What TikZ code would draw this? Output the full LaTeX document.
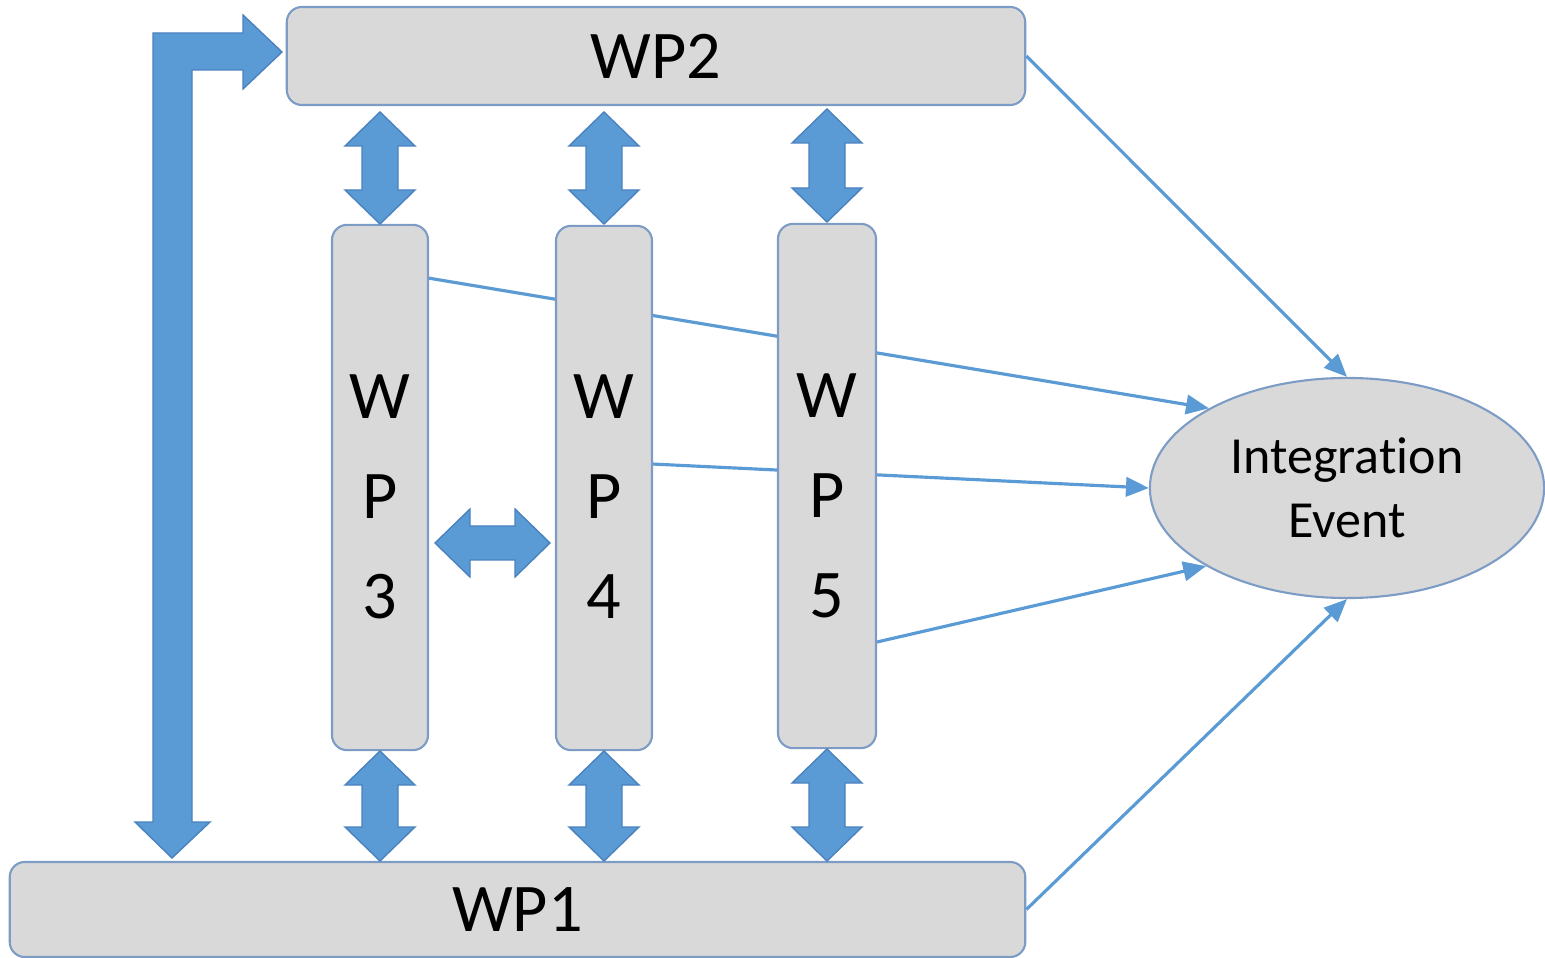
\documentclass[tikz,border=0pt]{standalone}
\usepackage{fontspec}
\setmainfont{Carlito}[Ligatures=NoCommon]
\usetikzlibrary{shapes.geometric,arrows.meta,backgrounds}
\definecolor{boxfill}{HTML}{D9D9D9}
\definecolor{boxline}{HTML}{7C9CC6}
\definecolor{arrfill}{HTML}{5B9BD5}
\definecolor{arrline}{HTML}{4A82BE}
\definecolor{conncol}{HTML}{5B9BD5}
\newcommand\vdblarrow[3]{%
  \path[blockarrow] (#1,#2) -- ({#1+35},{#2+34}) -- ({#1+18},{#2+34}) -- ({#1+18},{#3-34}) -- ({#1+35},{#3-34}) -- (#1,#3) -- ({#1-35},{#3-34}) -- ({#1-18},{#3-34}) -- ({#1-18},{#2+34}) -- ({#1-35},{#2+34}) -- cycle;}
\begin{document}
\begin{tikzpicture}[x=0.01cm,y=-0.01cm,
  wpbox/.style={draw=boxline, line width=0.6pt, fill=boxfill, rounded corners=4.3pt, inner sep=0pt},
  wpfont/.style={font=\fontsize{19.4pt}{28.45pt}\selectfont},
  wptext/.style={wpfont, align=center, inner sep=0pt},
  blockarrow/.style={fill=arrfill, draw=arrline, line width=0.4pt, line join=miter},
  conn/.style={draw=conncol, line width=0.9pt, -{Triangle[length=6.5pt,width=5.5pt]}}]
\useasboundingbox (0,0) rectangle (1545,958);

% boxes
\node[wpbox, wpfont, minimum width=7.38cm, minimum height=0.98cm] (wp2) at (656,56) {WP2};
\node[wpbox, wpfont, minimum width=10.15cm, minimum height=0.95cm] (wp1) at (517.5,909.5) {WP1};
\node[wpbox, minimum width=0.96cm, minimum height=5.25cm] (wp3) at (380,487.5) {};
\node[wpbox, minimum width=0.96cm, minimum height=5.24cm] (wp4) at (604,488) {};
\node[wpbox, minimum width=0.98cm, minimum height=5.24cm] (wp5) at (827,486) {};
\node[wptext] (wp3t) at (380,497) {W\\P\\3};
\node[wptext] (wp4t) at (604,497) {W\\P\\4};
\node[wptext] (wp5t) at (827,496) {W\\P\\5};

% integration event
\node[ellipse, draw=boxline, line width=0.6pt, fill=boxfill, minimum width=3.94cm, minimum height=2.2cm, inner sep=0pt, align=center, font=\fontsize{14.8pt}{18.2pt}\selectfont] (ie) at (1347,488) {Integration\\Event};

% thin connectors (behind boxes)
\begin{scope}[on background layer]
\coordinate (s3) at (428,278);
\coordinate (s4) at (652,464);
\coordinate (s5) at (877,642);
\draw[conn] (wp2.east) -- (ie.north);
\draw[conn] (s3) -- (ie.150.6);
\draw[conn] (s4) -- (ie.west);
\draw[conn] (s5) -- (ie.209.7);
\draw[conn] (wp1.east) -- (ie.south);
\end{scope}

% block arrows
\vdblarrow{380}{112}{224}
\vdblarrow{604}{112}{224}
\vdblarrow{827}{109}{222}
\vdblarrow{380}{751}{861}
\vdblarrow{604}{751}{861}
\vdblarrow{827}{749}{861}
\path[blockarrow] (435,543) -- (470,509) -- (470,526) -- (515,526) -- (515,509) -- (550,543) -- (515,577) -- (515,560) -- (470,560) -- (470,577) -- cycle;
\path[blockarrow] (172,858) -- (210,822) -- (192,822) -- (192,70) -- (243,70) -- (243,89) -- (282,52) -- (243,15) -- (243,33) -- (153,33) -- (153,822) -- (135,822) -- cycle;
\end{tikzpicture}
\end{document}
